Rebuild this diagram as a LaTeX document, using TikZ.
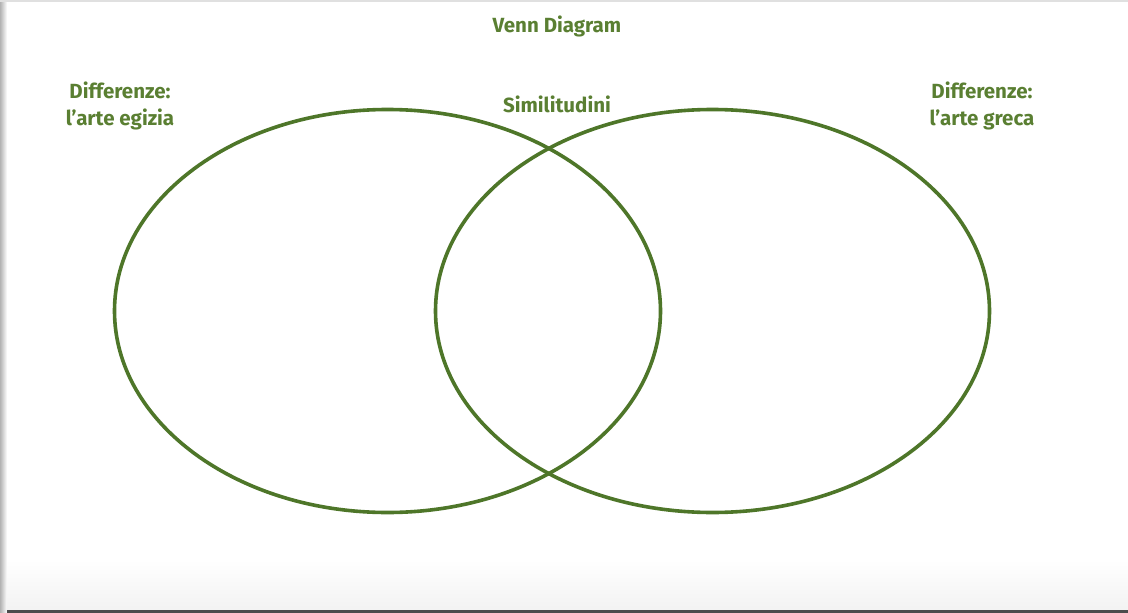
\documentclass[tikz,border=0pt]{standalone}
\usepackage{fontspec}
\setmainfont{Fira Sans}
\usetikzlibrary{shapes.geometric}
\definecolor{vgreen}{HTML}{4E7629}
\definecolor{tgreen}{HTML}{5A7F32}
\begin{document}
\begin{tikzpicture}[x=1pt,y=-1pt,
  ring/.style={draw=vgreen,line width=3.6pt,ellipse,inner sep=0pt,minimum height=403pt},
  lab/.style={text=tgreen,font=\fontsize{20.5}{27}\selectfont\bfseries,align=center,inner sep=0pt}]
\useasboundingbox (0,0) rectangle (1128,613);
\fill[white] (0,0) rectangle (1128,613);
\shade[left color=black!30,right color=white] (0,0) rectangle (7,613);
\fill[black!12] (0,0) rectangle (1128,2);
\shade[top color=white,bottom color=black!5] (7,560) rectangle (1128,610);
\fill[black!70] (7,610) rectangle (1128,613);
\node[ring,minimum width=546pt] (L) at (387.5,311) {};
\node[ring,minimum width=554pt] (R) at (712.5,311) {};
\node[lab] (title) at (557,26) {Venn Diagram};
\node[lab] (sim) at (557,104) {Similitudini};
\node[lab] (dl) at (120,106) {Differenze:\\l’arte egizia};
\node[lab] (dr) at (982,106) {Differenze:\\l’arte greca};
\end{tikzpicture}
\end{document}
